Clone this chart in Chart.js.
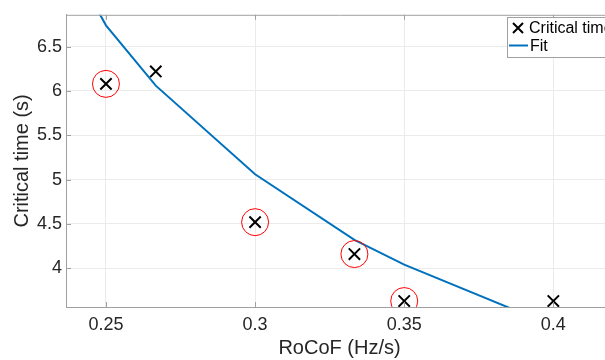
<!DOCTYPE html>
<html>
<head>
<meta charset="utf-8">
<script src="https://cdn.jsdelivr.net/npm/chart.js@4.4.1/dist/chart.umd.min.js"></script>
<style>
  html, body { margin: 0; padding: 0; background: #fff; overflow: hidden; }
  #wrap { width: 640px; height: 360px; position: relative; }
</style>
</head>
<body>
<div id="wrap"><canvas id="critChart"></canvas></div>
<script>
// measured points
const rocof = [0.25, 0.2667, 0.3, 0.3333, 0.35, 0.4];
const critTime = [6.08, 6.22, 4.52, 4.16, 3.63, 3.63];

// points marked with a red circle
const circledX = [0.25, 0.3, 0.3333, 0.35];
const circledY = [6.08, 4.52, 4.16, 3.63];

// fitted curve
const fitX = [0.24, 0.25, 0.2667, 0.3, 0.3333, 0.35, 0.4];
const fitY = [7.35, 6.74, 6.06, 5.06, 4.32, 4.04, 3.35];

const xTicks = [0.25, 0.3, 0.35, 0.4];
const yTicks = [4, 4.5, 5, 5.5, 6, 6.5];

const toXY = function(xs, ys) {
    return xs.map(function(x, i) { return { x: x, y: ys[i] }; });
};

const fontFam = '"Liberation Sans", Arial, Helvetica, sans-serif';

// top border, inner tick marks + MATLAB style legend box
const boxLegend = {
    id: 'boxLegend',
    afterDraw: function(chart) {
        const ctx = chart.ctx;
        const a = chart.chartArea;
        const sx = chart.scales.x;
        const sy = chart.scales.y;
        ctx.save();
        ctx.strokeStyle = '#a0a0a0';
        ctx.lineWidth = 1;
        ctx.beginPath();
        ctx.moveTo(a.left, a.top + 0.5);
        ctx.lineTo(a.right, a.top + 0.5);
        ctx.moveTo(a.right - 0.5, a.top);
        ctx.lineTo(a.right - 0.5, a.bottom);
        xTicks.forEach(function(v) {
            const px = Math.round(sx.getPixelForValue(v)) + 0.5;
            ctx.moveTo(px, a.bottom);
            ctx.lineTo(px, a.bottom - 5);
            ctx.moveTo(px, a.top);
            ctx.lineTo(px, a.top + 5);
        });
        yTicks.forEach(function(v) {
            const py = Math.round(sy.getPixelForValue(v)) + 0.5;
            ctx.moveTo(a.left, py);
            ctx.lineTo(a.left + 5, py);
        });
        ctx.stroke();

        const bx = 507.5, by = 17.5, bw = 120, bh = 40;
        ctx.fillStyle = '#fff';
        ctx.fillRect(bx, by, bw, bh);
        ctx.strokeStyle = '#a0a0a0';
        ctx.strokeRect(bx, by, bw, bh);

        ctx.font = '16px ' + fontFam;
        ctx.fillStyle = '#000';
        ctx.textBaseline = 'middle';
        ctx.textAlign = 'left';
        // cross marker
        ctx.strokeStyle = '#000';
        ctx.lineWidth = 2;
        ctx.beginPath();
        ctx.moveTo(513, 23);
        ctx.lineTo(523, 33);
        ctx.moveTo(523, 23);
        ctx.lineTo(513, 33);
        ctx.stroke();
        ctx.fillText(chart.data.datasets[0].label, 529, 28.5);
        // line sample
        ctx.strokeStyle = '#0072BD';
        ctx.beginPath();
        ctx.moveTo(509, 45.5);
        ctx.lineTo(528, 45.5);
        ctx.stroke();
        ctx.fillText(chart.data.datasets[1].label, 530, 46.5);
        ctx.restore();
    }
};

const ctx = document.getElementById('critChart').getContext('2d');
const critChart = new Chart(ctx, {
    type: 'scatter',
    data: {
        datasets: [{
            label: 'Critical time',
            data: toXY(rocof, critTime),
            pointStyle: 'crossRot',
            pointRadius: 8,
            pointBorderWidth: 2,
            borderColor: '#000',
            backgroundColor: '#000',
            order: 1
        }, {
            label: 'Fit',
            data: toXY(fitX, fitY),
            showLine: true,
            borderColor: '#0072BD',
            borderWidth: 2,
            pointRadius: 0,
            tension: 0,
            order: 2
        }, {
            label: 'circled',
            data: toXY(circledX, circledY),
            pointStyle: 'circle',
            pointRadius: 13.5,
            pointBorderWidth: 1,
            borderColor: '#ff0000',
            backgroundColor: 'rgba(0,0,0,0)',
            order: 0
        }]
    },
    options: {
        responsive: true,
        maintainAspectRatio: false,
        animation: false,
        layout: {
            padding: { top: 13, right: 27, bottom: 0, left: 0 }
        },
        plugins: {
            legend: { display: false },
            tooltip: { enabled: false }
        },
        scales: {
            x: {
                type: 'linear',
                min: 0.2366,
                max: 0.42,
                afterBuildTicks: function(axis) {
                    axis.ticks = xTicks.map(function(v) { return { value: v }; });
                },
                afterFit: function(axis) { axis.height = 53; },
                grid: { color: '#ebebeb', drawTicks: false },
                border: { color: '#a0a0a0' },
                ticks: {
                    padding: 7,
                    color: '#262626',
                    font: { family: fontFam, size: 18 },
                    callback: function(v) { return String(v); }
                },
                title: {
                    display: true,
                    text: 'RoCoF (Hz/s)',
                    color: '#262626',
                    font: { family: fontFam, size: 20 },
                    padding: { top: 0, bottom: 0 }
                }
            },
            y: {
                min: 3.563,
                max: 6.859,
                afterBuildTicks: function(axis) {
                    axis.ticks = yTicks.map(function(v) { return { value: v }; });
                },
                afterFit: function(axis) { axis.width = 66; },
                grid: { color: '#ebebeb', drawTicks: false },
                border: { color: '#a0a0a0' },
                ticks: {
                    padding: 4,
                    color: '#262626',
                    font: { family: fontFam, size: 18 },
                    callback: function(v) { return String(v); }
                },
                title: {
                    display: true,
                    text: 'Critical time (s)',
                    color: '#262626',
                    font: { family: fontFam, size: 20 },
                    padding: { top: 10, bottom: 0 }
                }
            }
        }
    },
    plugins: [boxLegend]
});
</script>
</body>
</html>
